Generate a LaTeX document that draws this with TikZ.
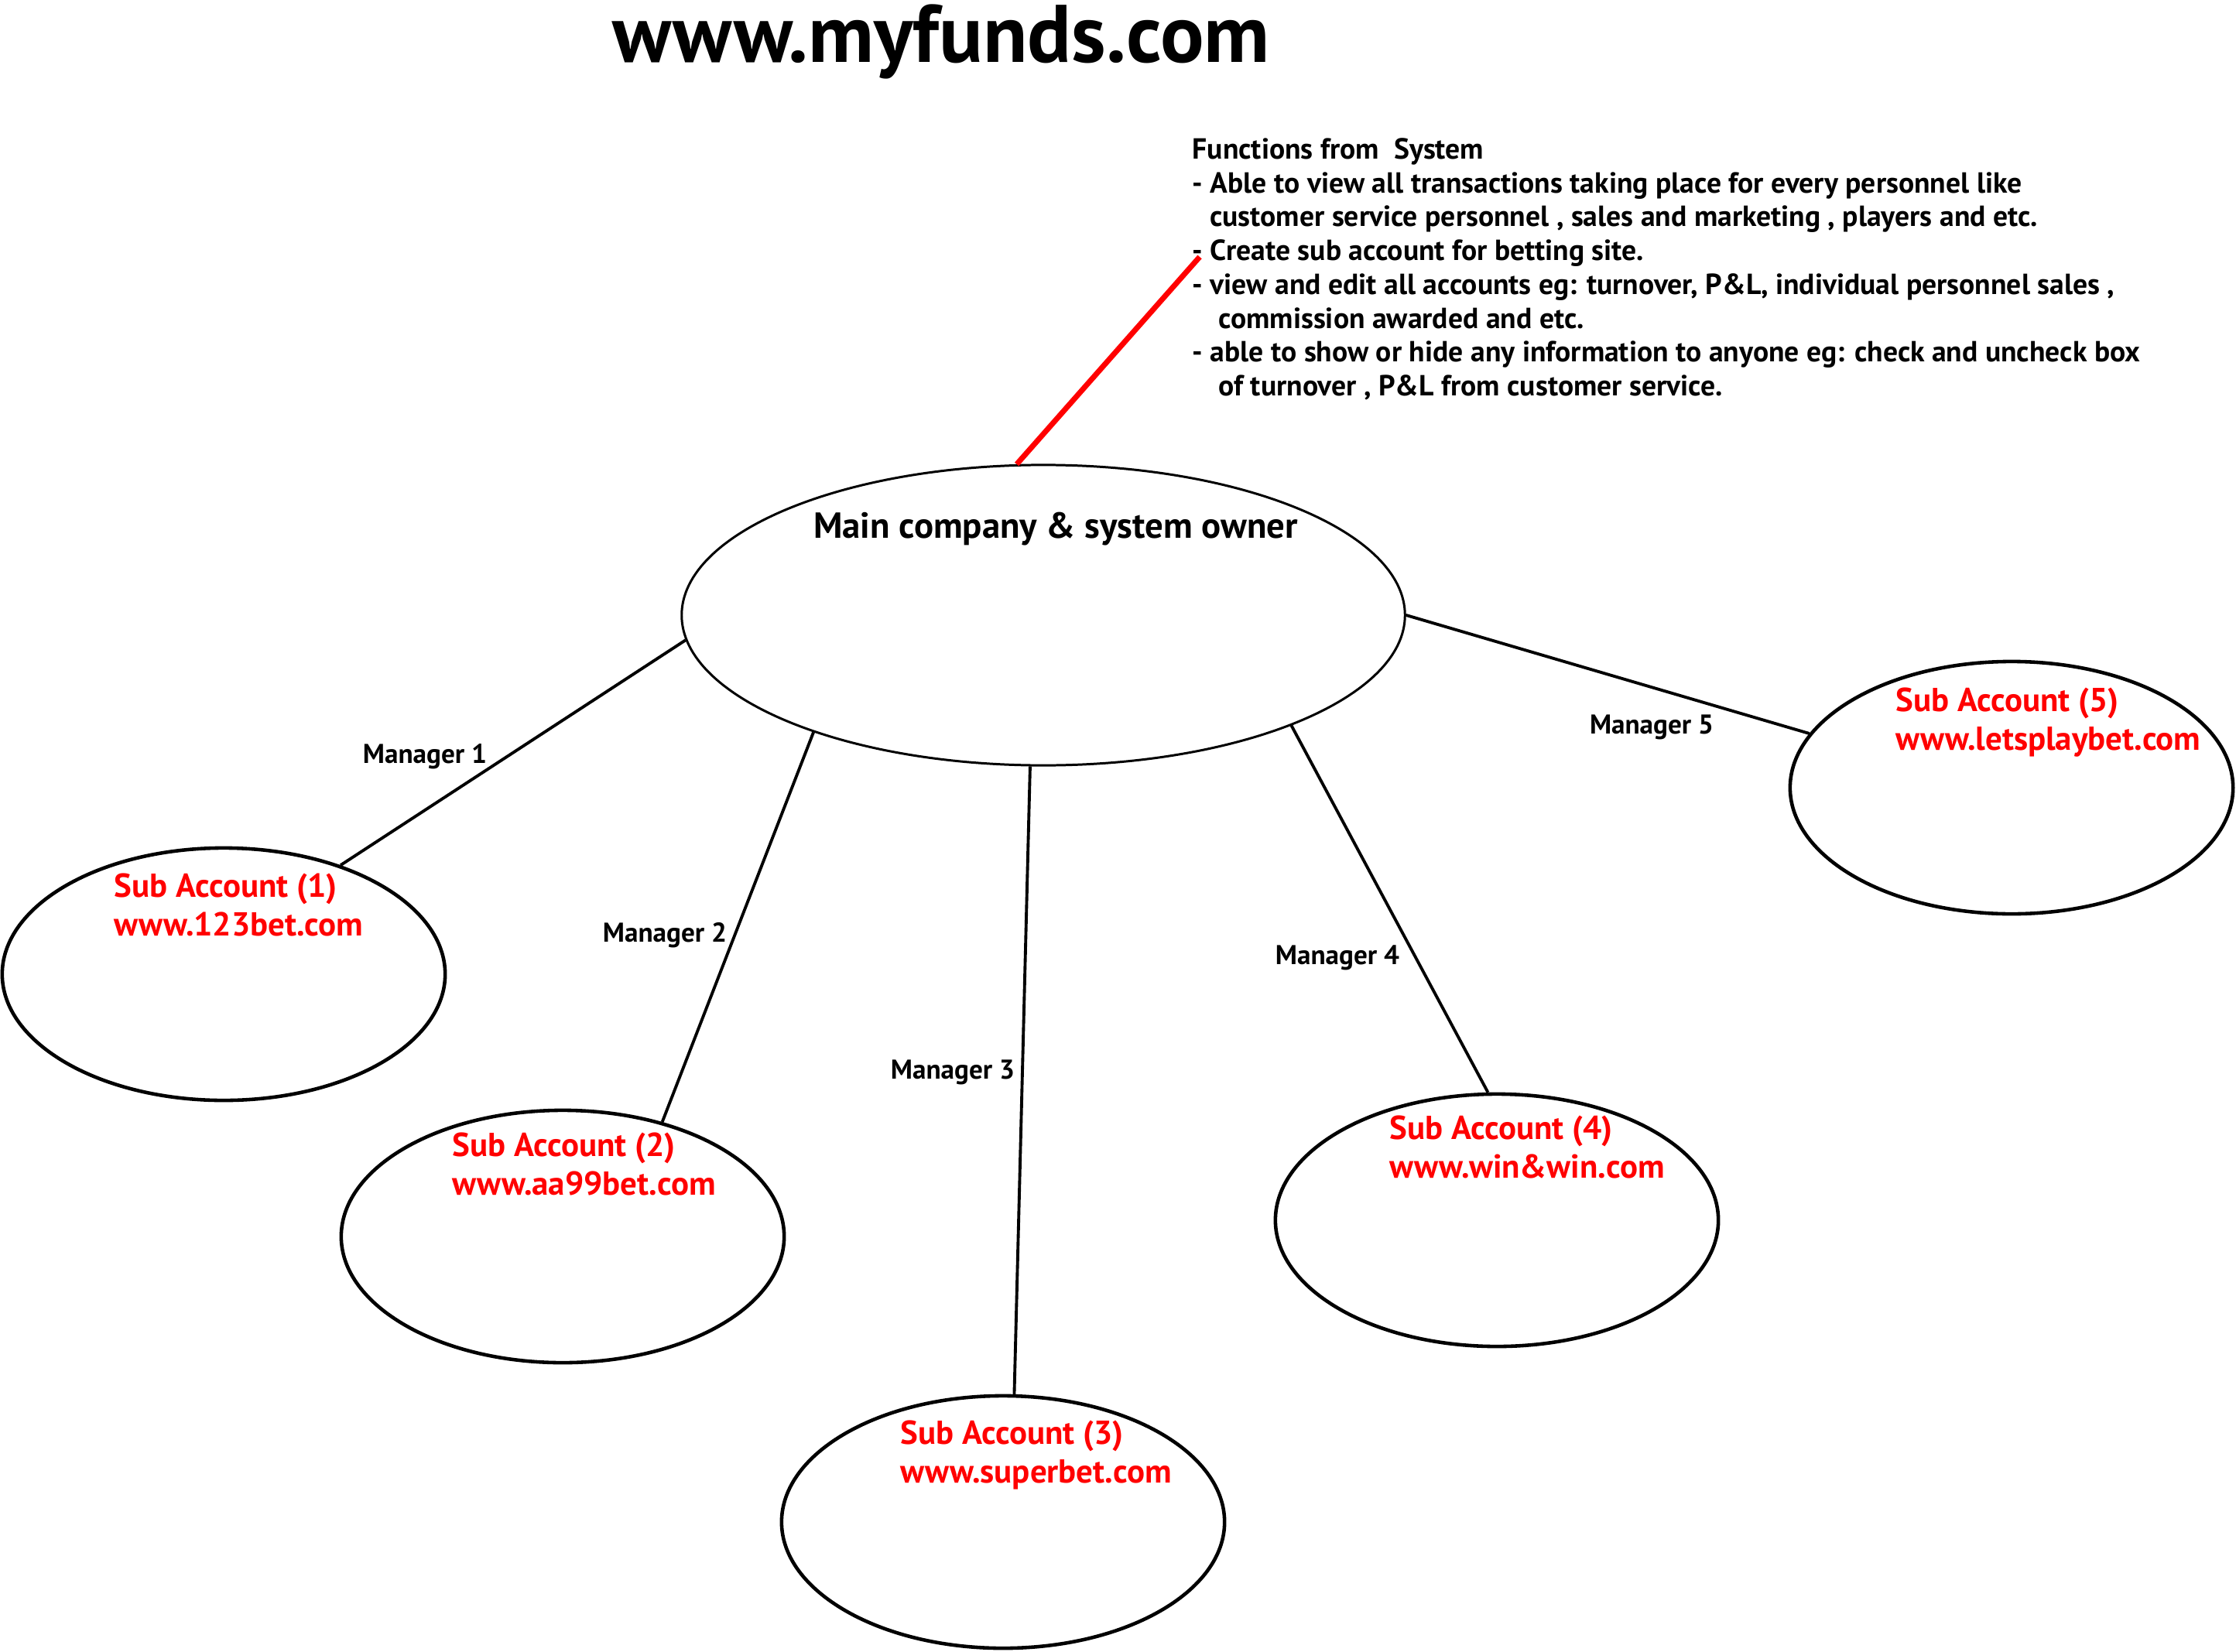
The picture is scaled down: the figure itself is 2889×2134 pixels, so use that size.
\documentclass[tikz,border=0pt]{standalone}
\usepackage{fontspec}
\setmainfont[BoldFont={PT Sans Bold}]{PT Sans}
\usetikzlibrary{shapes.geometric,calc}
\definecolor{Mark}{HTML}{FF0000}
\definecolor{Ink}{HTML}{000000}
\tikzset{
  owner/.style={
    ellipse,draw=Ink,line width=0.85pt,fill=white,inner sep=0pt,
    minimum width=9.34cm,minimum height=3.88cm
  },
  subacct/.style={
    ellipse,draw=Ink,line width=1.3pt,fill=white,inner sep=0pt,
    minimum width=5.72cm,minimum height=3.26cm
  },
  subtext/.style={
    anchor=north west,inner sep=0pt,align=left,text=Mark,
    font=\fontsize{12.2}{14.2}\selectfont\bfseries
  },
  mgr/.style={inner sep=1pt,font=\fontsize{10}{11}\selectfont\bfseries},
  link/.style={draw=Ink,line width=1.1pt},
  hook/.style={draw=Mark,line width=2pt}
}

\begin{document}
\begin{tikzpicture}[x=0.01cm,y=0.01cm]
  \fill[white] (0,0) rectangle (2889,-2134);
  \useasboundingbox (0,0) rectangle (2889,-2134);
  \node[font=\fontsize{30}{34}\selectfont\bfseries] (title) at (1216,-54)
    {www.myfunds.com};
  \node[anchor=north west,inner sep=0pt,align=left,
    font=\fontsize{10.7}{12.43}\selectfont\bfseries] (functions) at (1540,-178)
    {Functions from\ \ System\\
     - Able to view all transactions taking place for every personnel like\\
     \hspace*{0.6em}customer service personnel , sales and marketing , players and etc.\\
     - Create sub account for betting site.\\
     - view and edit all accounts eg: turnover, P\&L, individual personnel sales ,\\
     \hspace*{0.9em}commission awarded and etc.\\
     - able to show or hide any information to anyone eg: check and uncheck box\\
     \hspace*{0.9em}of turnover , P\&L from customer service.};
  % owner and the five sub accounts
  \node[owner] (main) at (1348,-795) {};
  \node[font=\fontsize{13.3}{16}\selectfont\bfseries] (maintxt) at (1364,-684)
    {Main company \& system owner};
  \node[subacct] (sub1) at (289,-1259) {};
  \node[subacct] (sub2) at (727,-1598) {};
  \node[subacct] (sub3) at (1296,-1967) {};
  \node[subacct] (sub4) at (1934,-1577) {};
  \node[subacct] (sub5) at (2599,-1018) {};
  \node[subtext] (sub1txt) at (147,-1128) {Sub Account (1)\\www.123bet.com};
  \node[subtext] (sub2txt) at (584,-1463) {Sub Account (2)\\www.aa99bet.com};
  \node[subtext] (sub3txt) at (1163,-1835) {Sub Account (3)\\www.superbet.com};
  \node[subtext] (sub4txt) at (1795,-1441) {Sub Account (4)\\www.win\&win.com};
  \node[subtext] (sub5txt) at (2449,-888) {Sub Account (5)\\www.letsplaybet.com};
  % managers
  \draw[link] (main.184) -- (sub1.43);
  \draw[link] (main.207) -- (sub2.49);
  \draw[link] (main.265) -- (sub3.85);
  \draw[link] (main.336) -- (sub4.94);
  \draw[link] (main.0) -- (sub5.165);
  \node[mgr] (mgr1) at (549,-978) {Manager 1};
  \node[mgr] (mgr2) at (859,-1209) {Manager 2};
  \node[mgr] (mgr3) at (1231,-1386) {Manager 3};
  \node[mgr] (mgr4) at (1728,-1238) {Manager 4};
  \node[mgr] (mgr5) at (2134,-940) {Manager 5};
  \coordinate (fnhook) at (1550,-332);
  \draw[hook] (main.100) -- (fnhook);
\end{tikzpicture}
\end{document}
